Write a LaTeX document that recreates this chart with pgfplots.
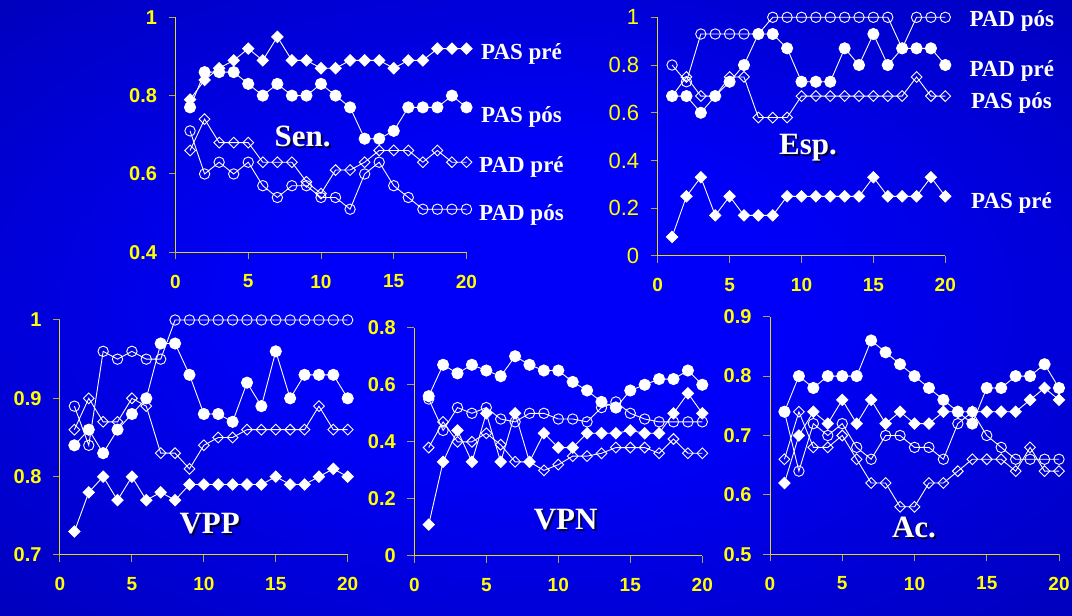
\documentclass[border=0pt]{standalone}
\usepackage{pgfplots}
\pgfplotsset{compat=1.18}
\usepackage{pgfplotstable}
\usepackage{fontspec}
\setmainfont{Liberation Serif}
\newfontfamily\arial{Liberation Sans}

\definecolor{bgin}{RGB}{0,0,250}
\definecolor{bgout}{RGB}{0,0,172}
\definecolor{axyel}{RGB}{228,218,20}
\definecolor{tickgray}{RGB}{175,165,95}
\definecolor{tyel}{RGB}{255,255,0}

\pgfdeclareradialshading{backdrop}{\pgfpoint{0bp}{0bp}}{%
  color(0bp)=(bgin); color(12bp)=(bgin); color(42bp)=(bgout); color(80bp)=(bgout)}

% Sensibilidade
\pgfplotstableread{
x  PASpre PASpos PADpre PADpos
1  0.79 0.77 0.66 0.71
2  0.84 0.86 0.74 0.60
3  0.87 0.86 0.68 0.63
4  0.89 0.86 0.68 0.60
5  0.92 0.83 0.68 0.63
6  0.89 0.80 0.63 0.57
7  0.95 0.83 0.63 0.54
8  0.89 0.80 0.63 0.57
9  0.89 0.80 0.58 0.57
10 0.87 0.83 0.55 0.54
11 0.87 0.80 0.61 0.54
12 0.89 0.77 0.61 0.51
13 0.89 0.69 0.63 0.60
14 0.89 0.69 0.66 0.63
15 0.87 0.71 0.66 0.57
16 0.89 0.77 0.66 0.54
17 0.89 0.77 0.63 0.51
18 0.92 0.77 0.66 0.51
19 0.92 0.80 0.63 0.51
20 0.92 0.77 0.63 0.51
}\sen

% Especificidade
\pgfplotstableread{
x  PADpos PADpre PASpos PASpre
1  0.80 0.67 0.67 0.08
2  0.73 0.67 0.75 0.25
3  0.93 0.60 0.67 0.33
4  0.93 0.67 0.67 0.17
5  0.93 0.73 0.75 0.25
6  0.93 0.80 0.75 0.17
7  0.93 0.93 0.58 0.17
8  1.00 0.93 0.58 0.17
9  1.00 0.87 0.58 0.25
10 1.00 0.73 0.67 0.25
11 1.00 0.73 0.67 0.25
12 1.00 0.73 0.67 0.25
13 1.00 0.87 0.67 0.25
14 1.00 0.80 0.67 0.25
15 1.00 0.93 0.67 0.33
16 1.00 0.80 0.67 0.25
17 0.87 0.87 0.67 0.25
18 1.00 0.87 0.75 0.25
19 1.00 0.87 0.67 0.33
20 1.00 0.80 0.67 0.25
}\esp

% Valor preditivo positivo
\pgfplotstableread{
x  fc   oc   od   fd
1  0.84 0.89 0.86 0.73
2  0.86 0.84 0.90 0.78
3  0.83 0.96 0.87 0.80
4  0.86 0.95 0.87 0.77
5  0.88 0.96 0.90 0.80
6  0.90 0.95 0.89 0.77
7  0.97 0.95 0.83 0.78
8  0.97 1.00 0.83 0.77
9  0.93 1.00 0.81 0.79
10 0.88 1.00 0.84 0.79
11 0.88 1.00 0.85 0.79
12 0.87 1.00 0.85 0.79
13 0.92 1.00 0.86 0.79
14 0.89 1.00 0.86 0.79
15 0.96 1.00 0.86 0.80
16 0.90 1.00 0.86 0.79
17 0.93 1.00 0.86 0.79
18 0.93 1.00 0.89 0.80
19 0.93 1.00 0.86 0.81
20 0.90 1.00 0.86 0.80
}\vpp

% Valor preditivo negativo
\pgfplotstableread{
x  fc   oc   fd   od
1  0.56 0.55 0.11 0.38
2  0.67 0.44 0.33 0.47
3  0.64 0.52 0.44 0.40
4  0.67 0.50 0.33 0.40
5  0.65 0.52 0.50 0.43
6  0.63 0.48 0.33 0.39
7  0.70 0.47 0.50 0.33
8  0.67 0.50 0.33 0.33
9  0.65 0.50 0.43 0.30
10 0.65 0.48 0.38 0.32
11 0.61 0.48 0.38 0.35
12 0.58 0.47 0.43 0.35
13 0.54 0.52 0.43 0.36
14 0.52 0.54 0.43 0.38
15 0.58 0.50 0.44 0.38
16 0.60 0.48 0.43 0.38
17 0.62 0.47 0.43 0.36
18 0.62 0.47 0.50 0.41
19 0.65 0.47 0.57 0.36
20 0.60 0.47 0.50 0.36
}\vpn

% Acuracia
\pgfplotstableread{
x  fc   fd   oc   od
1  0.74 0.62 0.74 0.66
2  0.80 0.70 0.64 0.74
3  0.78 0.74 0.72 0.68
4  0.80 0.72 0.70 0.68
5  0.80 0.76 0.72 0.70
6  0.80 0.72 0.68 0.66
7  0.86 0.76 0.66 0.62
8  0.84 0.72 0.70 0.62
9  0.82 0.74 0.70 0.58
10 0.80 0.72 0.68 0.58
11 0.78 0.72 0.68 0.62
12 0.76 0.74 0.66 0.62
13 0.74 0.74 0.72 0.64
14 0.72 0.74 0.74 0.66
15 0.78 0.74 0.70 0.66
16 0.78 0.74 0.68 0.66
17 0.80 0.74 0.66 0.64
18 0.80 0.76 0.66 0.68
19 0.82 0.78 0.66 0.64
20 0.78 0.76 0.66 0.64
}\acu

\pgfplotsset{
  panel/.style={
    scale only axis, clip=false,
    xmin=0, xmax=20, xtick={0,5,10,15,20},
    axis x line*=bottom, axis y line*=left,
    axis line style={draw=axyel, line width=1pt},
    tick style={draw=tickgray, line width=1pt},
    major tick length=7pt, tick align=outside,
    xticklabel style={text=tyel, yshift=-12pt,
      font=\arial\bfseries\fontsize{19}{20}\selectfont},
    yticklabel style={text=tyel, xshift=-8pt,
      font=\arial\bfseries\fontsize{20}{22}\selectfont},
    /pgf/number format/assume math mode=true,
  },
  fd/.style={white, line width=0.9pt, mark=square*, mark size=4pt,
    mark options={rotate=45, fill=white, draw=white, solid}},
  od/.style={white, line width=0.9pt, mark=square, mark size=3.8pt,
    mark options={rotate=45, draw=white, fill=none, solid}},
  fc/.style={white, line width=0.9pt, mark=*, mark size=5.6pt,
    mark options={fill=white, draw=white, solid}},
  oc/.style={white, line width=0.9pt, mark=o, mark size=5.2pt,
    mark options={draw=white, fill=none, solid}},
}

\newcommand\serieslabel[3]{\node[anchor=base west, inner sep=0pt, text=white,
  font=\bfseries\fontsize{23}{25}\selectfont] at (#1,#2) {#3};}
\newcommand\panellabel[3]{%
  \node[anchor=base, inner sep=0pt, text=black, opacity=0.75,
    font=\bfseries\fontsize{31}{34}\selectfont] at ({#1+2},{#2-2}) {#3};
  \node[anchor=base, inner sep=0pt, text=white,
    font=\bfseries\fontsize{31}{34}\selectfont] at (#1,#2) {#3};}

\begin{document}
\begin{tikzpicture}[x=1pt, y=1pt]
\useasboundingbox (0,0) rectangle (1072,616);
\shade[shading=backdrop] (0,0) rectangle (1072,616);
% lower-left corners of the five plot areas
\coordinate (senSW) at (175.5,363.7);
\coordinate (espSW) at (657.7,360);
\coordinate (vppSW) at (60,61);
\coordinate (vpnSW) at (414.3,60);
\coordinate (acuSW) at (770,61.7);

% Sen.
\begin{axis}[panel, at={(senSW)}, anchor=south west,
  width=291pt, height=235pt, ymin=0.4, ymax=1, ytick={0.4,0.6,0.8,1}]
  \addplot[od] table[x=x, y=PADpre] {\sen};
  \addplot[oc] table[x=x, y=PADpos] {\sen};
  \addplot[fc] table[x=x, y=PASpos] {\sen};
  \addplot[fd] table[x=x, y=PASpre] {\sen};
\end{axis}

% Esp.
\begin{axis}[panel, at={(espSW)}, anchor=south west,
  width=287.6pt, height=238.7pt, ymin=0, ymax=1, ytick={0,0.2,0.4,0.6,0.8,1},
  yticklabel style={font=\arial\fontsize{22}{24}\selectfont}]
  \addplot[od] table[x=x, y=PASpos] {\esp};
  \addplot[oc] table[x=x, y=PADpos] {\esp};
  \addplot[fc] table[x=x, y=PADpre] {\esp};
  \addplot[fd] table[x=x, y=PASpre] {\esp};
\end{axis}

% VPP
\begin{axis}[panel, at={(vppSW)}, anchor=south west,
  width=287.7pt, height=235pt, ymin=0.7, ymax=1, ytick={0.7,0.8,0.9,1}]
  \addplot[od] table[x=x, y=od] {\vpp};
  \addplot[oc] table[x=x, y=oc] {\vpp};
  \addplot[fc] table[x=x, y=fc] {\vpp};
  \addplot[fd] table[x=x, y=fd] {\vpp};
\end{axis}

% VPN
\begin{axis}[panel, at={(vpnSW)}, anchor=south west,
  width=288pt, height=228.3pt, ymin=0, ymax=0.8, ytick={0,0.2,0.4,0.6,0.8}]
  \addplot[od] table[x=x, y=od] {\vpn};
  \addplot[oc] table[x=x, y=oc] {\vpn};
  \addplot[fc] table[x=x, y=fc] {\vpn};
  \addplot[fd] table[x=x, y=fd] {\vpn};
\end{axis}

% Ac.
\begin{axis}[panel, at={(acuSW)}, anchor=south west,
  width=289pt, height=237.6pt, ymin=0.5, ymax=0.9, ytick={0.5,0.6,0.7,0.8,0.9}]
  \addplot[od] table[x=x, y=od] {\acu};
  \addplot[oc] table[x=x, y=oc] {\acu};
  \addplot[fc] table[x=x, y=fc] {\acu};
  \addplot[fd] table[x=x, y=fd] {\acu};
\end{axis}

% series names
\serieslabel{481}{556.7}{PAS pré}
\serieslabel{481}{493.3}{PAS pós}
\serieslabel{479}{443.3}{PAD pré}
\serieslabel{479}{395.3}{PAD pós}
\serieslabel{969.3}{589.3}{PAD pós}
\serieslabel{969.3}{539.3}{PAD pré}
\serieslabel{971}{507.7}{PAS pós}
\serieslabel{971}{407.7}{PAS pré}

% panel names
\panellabel{302.7}{469.3}{Sen.}
\panellabel{808}{461}{Esp.}
\panellabel{209.7}{82.7}{VPP}
\panellabel{565.7}{86}{VPN}
\panellabel{914}{78.7}{Ac.}
\end{tikzpicture}
\end{document}
